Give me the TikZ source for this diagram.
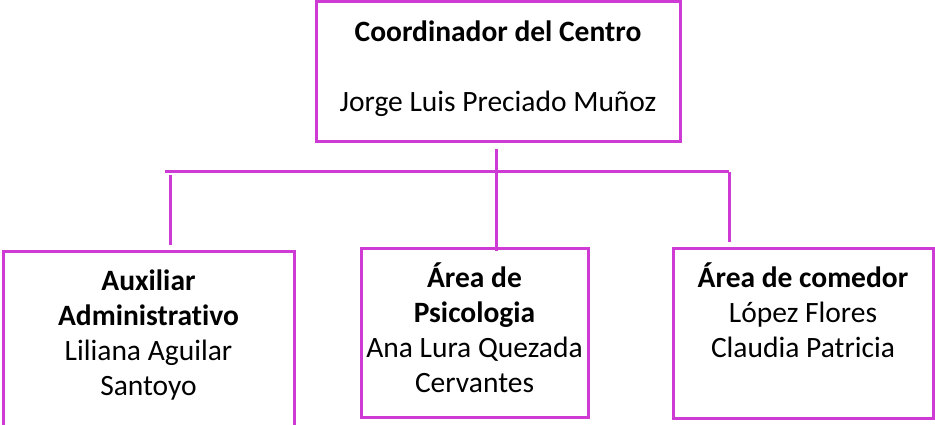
\documentclass[tikz,border=0pt]{standalone}
\usepackage{fontspec}
\setmainfont{Carlito}[Ligatures=NoCommon]
\usepackage{tikz}
\usetikzlibrary{calc}
\definecolor{orgpink}{RGB}{205,58,212}
% box contents: width, height, text (top aligned like the original)
\def\orgcell#1#2#3{\parbox[c][#2pt][t]{#1pt}{\centering\vspace*{15pt}\strut #3}}

\begin{document}
\begin{tikzpicture}[x=1pt,y=-1pt]
			%%%%% START %%%%%
			\tikzset{orgbox/.style={draw=orgpink, line width=3pt, inner sep=0pt, font=\fontsize{29.5}{35}\selectfont},
				link/.style={draw=orgpink, line width=3pt}}
			\clip (0,0) rectangle (935,425);
			
			\node[orgbox] (coord) at (498,72) {\orgcell{364}{140}{\textbf{Coordinador del Centro}\\[35pt]Jorge Luis Preciado Muñoz}};
			
			\node[orgbox] (aux) at (148.5,342) {\orgcell{291}{182}{\textbf{Auxiliar}\\\textbf{Administrativo}\\Liliana Aguilar\\Santoyo}};
			\node[orgbox] (psico) at (474.5,332.5) {\orgcell{227}{169}{\textbf{Área de}\\\textbf{Psicologia}\\Ana Lura Quezada\\Cervantes}};
			\node[orgbox] (comedor) at (803,333) {\orgcell{260}{170}{\textbf{Área de comedor}\\López Flores\\Claudia Patricia}};
			
			\coordinate (barL) at (165,172);
			\coordinate (barR) at (729,172);
			\draw[link] (barL) -- (barR);
			
			\draw[link, shorten >=-4pt] ([xshift=-2pt,yshift=-6pt]coord.south) -- ([xshift=-2pt]coord.south |- psico.north);
			\draw[link, shorten >=5pt] ([xshift=5pt,yshift=-3pt]barL) -- ([xshift=5pt]barL |- aux.north);
			\draw[link, shorten >=5pt] (barR) -- (barR |- comedor.north);
			
			%%%%% END %%%%%
		\end{tikzpicture}
\end{document}
